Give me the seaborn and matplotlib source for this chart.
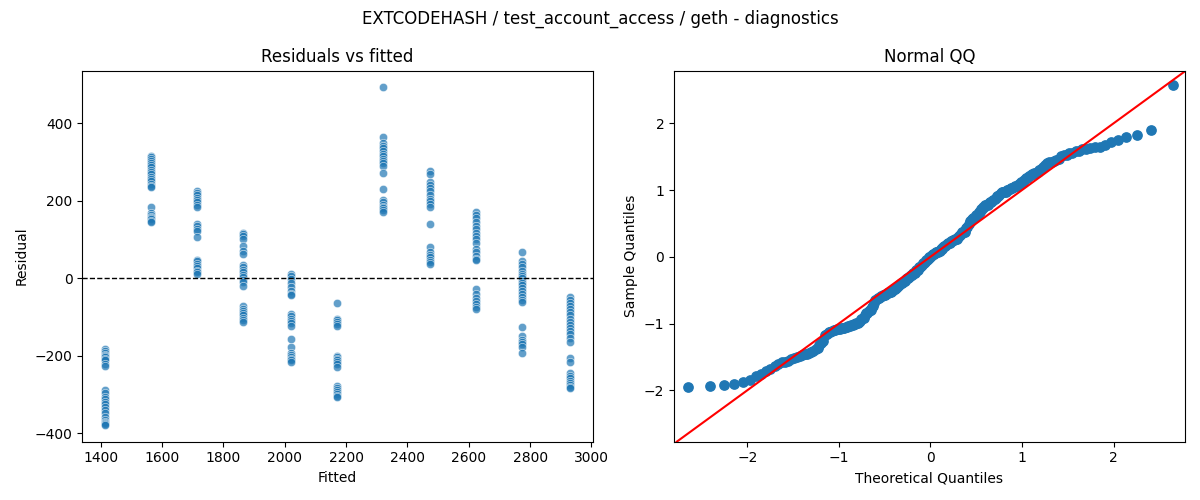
import statistics
import numpy as np
import pandas as pd
import matplotlib
matplotlib.use('Agg')
import matplotlib.pyplot as plt
import seaborn as sns

# fitted value of each group and the residuals
fitted = [1415, 1565, 1715, 1865, 2020, 2170, 2320, 2475, 2625, 2775, 2930]
res_1415 = [-182, -188, -193, -197, -200, -203, -208, -212, -220, -225, -288, -295,
            -305, -312, -318, -325, -332, -340, -347, -358, -365, -371, -374, -376, -378]
res_1565 = [315, 312, 308, 303, 298, 292, 287, 280, 275, 270, 262, 256, 250, 243,
            238, 235, 185, 168, 162, 158, 155, 152, 148, 146]
res_1715 = [226, 220, 214, 208, 202, 196, 190, 185, 140, 134, 128, 122, 106, 48,
            44, 38, 32, 26, 20, 15, 10]
res_1865 = [118, 113, 108, 100, 82, 70, 62, 35, 28, 22, 15, 8, 2, -4, -10, -20,
            -72, -78, -85, -90, -96, -102, -108, -113]
res_2020 = [12, 6, -3, -12, -22, -32, -40, -44, -92, -98, -104, -110, -116, -122,
            -156, -178, -192, -198, -203, -207, -211, -215]
res_2170 = [-65, -104, -108, -112, -117, -122, -200, -204, -208, -212, -216, -220,
            -228, -278, -282, -287, -293, -298, -303, -307]
res_2320 = [492, 364, 350, 342, 335, 328, 320, 314, 308, 302, 296, 290, 272, 230,
            202, 196, 190, 185, 180, 176, 172]
res_2475 = [276, 268, 248, 240, 232, 224, 214, 205, 198, 192, 185, 140, 80, 68,
            60, 54, 48, 42, 37]
res_2625 = [172, 164, 155, 146, 136, 128, 118, 110, 100, 92, 75, 68, 58, 50, 46,
            -28, -40, -50, -58, -66, -74, -78]
res_2775 = [68, 45, 36, 28, 20, 12, 5, 0, -6, -12, -18, -25, -32, -40, -48, -55,
            -62, -125, -148, -158, -164, -170, -178, -193]
res_2930 = [-48, -55, -63, -72, -80, -88, -96, -105, -112, -120, -128, -136, -145,
            -155, -165, -205, -215, -245, -252, -258, -265, -270, -275, -280, -283]

groups = [res_1415, res_1565, res_1715, res_1865, res_2020, res_2170,
          res_2320, res_2475, res_2625, res_2775, res_2930]

df = pd.DataFrame({
    'fitted': np.repeat(fitted, [len(g) for g in groups]),
    'resid': np.concatenate(groups),
})

# qq values: standardized sorted residuals vs normal quantiles
r = df['resid'].to_numpy(dtype=float)
sample_q = np.sort((r - r.mean()) / r.std())
n = len(sample_q)
nd = statistics.NormalDist()
theo_q = np.array([nd.inv_cdf(i / (n + 1)) for i in range(1, n + 1)])

fig, (ax1, ax2) = plt.subplots(1, 2, figsize=(12, 5), dpi=100)

sns.scatterplot(data=df, x='fitted', y='resid', ax=ax1, alpha=0.7)
ax1.axhline(0, color='black', linestyle='--', linewidth=1)
ax1.set_title('Residuals vs fitted')
ax1.set_xlabel('Fitted')
ax1.set_ylabel('Residual')

sns.scatterplot(x=theo_q, y=sample_q, ax=ax2, s=45, color='C0', edgecolor='C0', linewidth=1)
ax2.axline((0, 0), slope=1, color='red', linewidth=1.5)
ax2.set_xlim(-2.8, 2.78)
ax2.set_ylim(-2.77, 2.79)
ax2.set_title('Normal QQ')
ax2.set_xlabel('Theoretical Quantiles')
ax2.set_ylabel('Sample Quantiles')

fig.suptitle('EXTCODEHASH / test_account_access / geth - diagnostics')
plt.tight_layout()
plt.savefig('out.png')
